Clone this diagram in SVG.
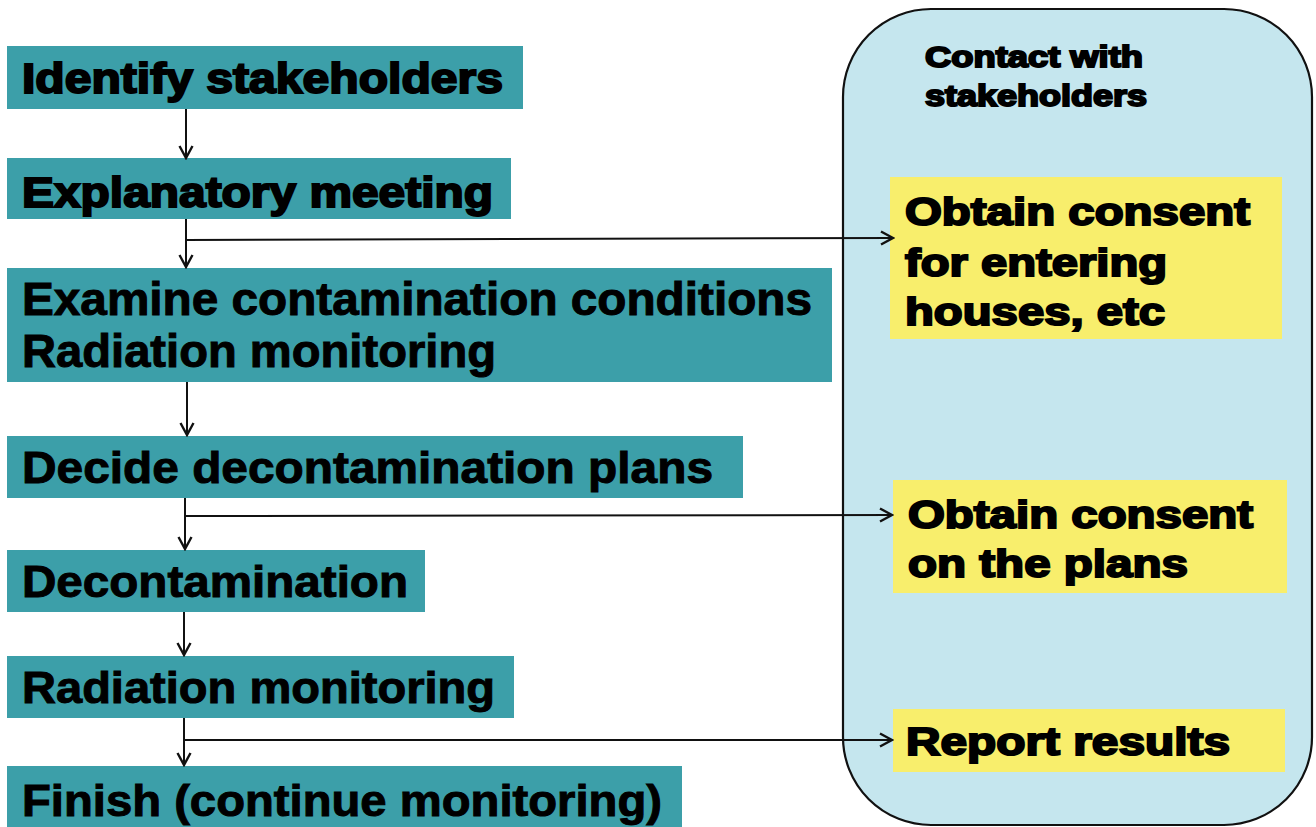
<svg xmlns="http://www.w3.org/2000/svg" width="1316" height="827" viewBox="0 0 1316 827">
<defs>
<style>
.step{fill:#3c9fa9}
.note{fill:#f8ee6c}
.panel{fill:#c5e6ee;stroke:#111;stroke-width:2.2}
.heavy{font-family:"Liberation Sans",Arial,sans-serif;font-weight:bold;fill:#000;stroke:#000;stroke-width:2}
.cond{font-family:"Liberation Sans",Arial,sans-serif;font-weight:bold;fill:#000;stroke:#000;stroke-width:1}
.conn{fill:none;stroke:#111;stroke-width:2}
</style>
<marker id="ah" viewBox="0 0 16 16" refX="14" refY="8" markerWidth="16" markerHeight="16" markerUnits="userSpaceOnUse" orient="auto">
<path d="M2,1.5 L14,8 L2,14.5" fill="none" stroke="#111" stroke-width="2.4"/>
</marker>
</defs>
<rect width="1316" height="827" fill="#ffffff"/>

<g id="panel-contact">
<rect class="panel" x="843" y="9" width="469" height="816" rx="88" ry="88"/>
<text class="heavy" font-size="30" x="925" y="67" textLength="218" lengthAdjust="spacingAndGlyphs" stroke-width="1.4">Contact with</text>
<text class="heavy" font-size="30" x="925" y="106" textLength="222" lengthAdjust="spacingAndGlyphs" stroke-width="1.4">stakeholders</text>
</g>

<g id="node-identify">
<rect class="step" x="7" y="46" width="516" height="63"/>
<text class="heavy" font-size="42" x="22" y="93" textLength="481" lengthAdjust="spacingAndGlyphs">Identify stakeholders</text>
</g>

<g id="node-explanatory">
<rect class="step" x="7" y="158" width="504" height="61"/>
<text class="heavy" font-size="42" x="22" y="207" textLength="471" lengthAdjust="spacingAndGlyphs">Explanatory meeting</text>
</g>

<g id="node-examine">
<rect class="step" x="7" y="268" width="825" height="114"/>
<text class="cond" font-size="47" x="22" y="315" textLength="790" lengthAdjust="spacingAndGlyphs">Examine contamination conditions</text>
<text class="cond" font-size="47" x="22" y="367" textLength="474" lengthAdjust="spacingAndGlyphs">Radiation monitoring</text>
</g>

<g id="node-decide">
<rect class="step" x="7" y="436" width="736" height="62"/>
<text class="cond" font-size="45" x="22" y="483" textLength="691" lengthAdjust="spacingAndGlyphs">Decide decontamination plans</text>
</g>

<g id="node-decontamination">
<rect class="step" x="7" y="550" width="418" height="62"/>
<text class="cond" font-size="45" x="22" y="597" textLength="386" lengthAdjust="spacingAndGlyphs">Decontamination</text>
</g>

<g id="node-radiation">
<rect class="step" x="7" y="656" width="507" height="62"/>
<text class="cond" font-size="45" x="22" y="703" textLength="473" lengthAdjust="spacingAndGlyphs">Radiation monitoring</text>
</g>

<g id="node-finish">
<rect class="step" x="7" y="766" width="675" height="61"/>
<text class="cond" font-size="45" x="22" y="816" textLength="640" lengthAdjust="spacingAndGlyphs">Finish (continue monitoring)</text>
</g>

<g id="node-consent-entering">
<rect class="note" x="890" y="177" width="392" height="162"/>
<text class="heavy" font-size="38" x="905" y="225" textLength="345" lengthAdjust="spacingAndGlyphs">Obtain consent</text>
<text class="heavy" font-size="38" x="905" y="276" textLength="262" lengthAdjust="spacingAndGlyphs">for entering</text>
<text class="heavy" font-size="38" x="905" y="325" textLength="260" lengthAdjust="spacingAndGlyphs">houses, etc</text>
</g>

<g id="node-consent-plans">
<rect class="note" x="893" y="480" width="394" height="113"/>
<text class="heavy" font-size="38" x="908" y="528" textLength="345" lengthAdjust="spacingAndGlyphs">Obtain consent</text>
<text class="heavy" font-size="38" x="908" y="577" textLength="280" lengthAdjust="spacingAndGlyphs">on the plans</text>
</g>

<g id="node-report">
<rect class="note" x="893" y="709" width="392" height="63"/>
<text class="heavy" font-size="38" x="906" y="755" textLength="324" lengthAdjust="spacingAndGlyphs">Report results</text>
</g>

<g id="connectors">
<line class="conn" x1="186" y1="109" x2="186" y2="158" marker-end="url(#ah)"/>
<line class="conn" x1="186" y1="219" x2="186" y2="267" marker-end="url(#ah)"/>
<line class="conn" x1="186" y1="240" x2="893" y2="238" marker-end="url(#ah)"/>
<line class="conn" x1="187" y1="382" x2="187" y2="435" marker-end="url(#ah)"/>
<line class="conn" x1="185" y1="498" x2="185" y2="549" marker-end="url(#ah)"/>
<line class="conn" x1="185" y1="516" x2="892" y2="515" marker-end="url(#ah)"/>
<line class="conn" x1="184" y1="612" x2="184" y2="655" marker-end="url(#ah)"/>
<line class="conn" x1="184" y1="718" x2="184" y2="765" marker-end="url(#ah)"/>
<line class="conn" x1="184" y1="740" x2="892" y2="740" marker-end="url(#ah)"/>
</g>
</svg>
